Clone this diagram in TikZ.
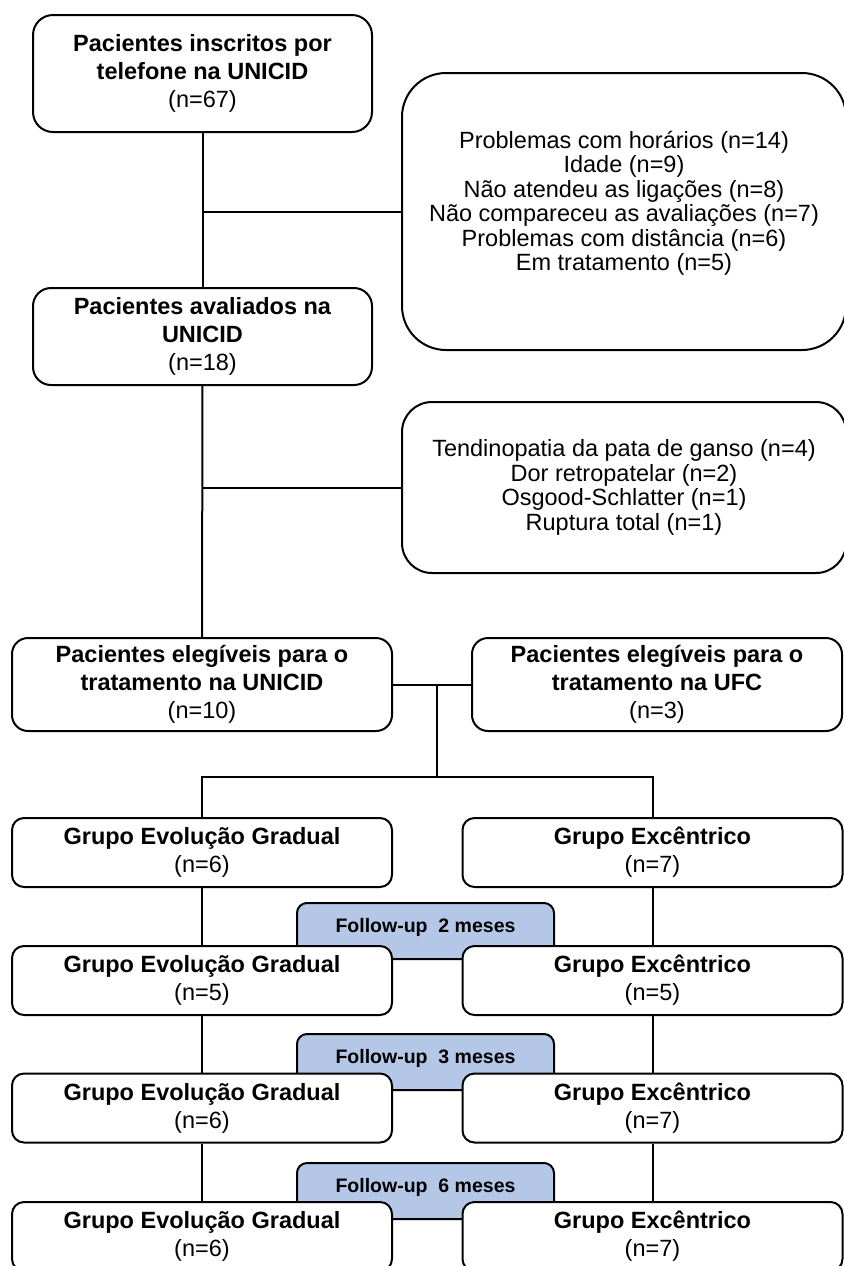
\documentclass[tikz,border=0pt]{standalone}
\usepackage{fontspec}
\setmainfont{Liberation Sans}
\usepackage{tikz}
\usetikzlibrary{positioning}
\definecolor{fublue}{RGB}{180,199,231}

\begin{document}
\begin{tikzpicture}[x=0.5pt,y=-0.5pt,
  box/.style={draw=black,line width=1pt,fill=white,align=center,inner sep=0pt,
    font=\fontsize{11.75}{14}\selectfont},
  exclbox/.style={box,font=\fontsize{11.75}{12.25}\selectfont},
  grpbox/.style={box,rounded corners=6pt,minimum width=190pt,minimum height=34.5pt},
  fubox/.style={draw=black,line width=1pt,fill=fublue,rounded corners=5pt,inner sep=0pt,
    minimum width=128.5pt,minimum height=28pt,text height=14.5pt,text depth=13.5pt,
    font=\fontsize{9.75}{11}\selectfont\bfseries},
  link/.style={line width=1pt}]
\clip (0,0) rectangle (844,1266);
\node[box,rounded corners=10pt,minimum width=169.5pt,minimum height=58.5pt] (ins) at (202.5,73.5)
  {\textbf{Pacientes inscritos por}\\\textbf{telefone na UNICID}\\(n=67)};
\node[exclbox,rounded corners=22pt,minimum width=222pt,minimum height=138.5pt,text depth=10.5pt] (excl1) at (624,211.5)
  {Problemas com horários (n=14)\\Idade (n=9)\\Não atendeu as ligações (n=8)\\Não compareceu as avaliações (n=7)\\Problemas com distância (n=6)\\Em tratamento (n=5)};
\node[box,rounded corners=9pt,minimum width=169.5pt,minimum height=48.5pt] (aval) at (202.5,336.5)
  {\textbf{Pacientes avaliados na}\\\textbf{UNICID}\\(n=18)};
\node[exclbox,rounded corners=15pt,minimum width=222pt,minimum height=85.5pt] (excl2) at (624,487.5)
  {Tendinopatia da pata de ganso (n=4)\\Dor retropatelar (n=2)\\Osgood-Schlatter (n=1)\\Ruptura total (n=1)};
\node[box,rounded corners=8pt,minimum width=190pt,minimum height=46.5pt] (eleg1) at (202,684.5)
  {\textbf{Pacientes elegíveis para o}\\\textbf{tratamento na UNICID}\\(n=10)};
\node[box,rounded corners=8pt,minimum width=185pt,minimum height=46.5pt] (eleg2) at (657,684.5)
  {\textbf{Pacientes elegíveis para o}\\\textbf{tratamento na UFC}\\(n=3)};
\node[fubox] (fu2) at (425.5,931) {Follow-up~~2 meses};
\node[fubox] (fu3) at (425.5,1062) {Follow-up~~3 meses};
\node[fubox] (fu6) at (425.5,1191) {Follow-up~~6 meses};
\node[grpbox] (g1l) at (202,852.5) {\textbf{Grupo Evolução Gradual}\\(n=6)};
\node[grpbox] (g1r) at (652.5,852.5) {\textbf{Grupo Excêntrico}\\(n=7)};
\node[grpbox] (g2l) at (202,980.5) {\textbf{Grupo Evolução Gradual}\\(n=5)};
\node[grpbox] (g2r) at (652.5,980.5) {\textbf{Grupo Excêntrico}\\(n=5)};
\node[grpbox] (g3l) at (202,1108) {\textbf{Grupo Evolução Gradual}\\(n=6)};
\node[grpbox] (g3r) at (652.5,1108) {\textbf{Grupo Excêntrico}\\(n=7)};
\node[grpbox] (g4l) at (202,1236.5) {\textbf{Grupo Evolução Gradual}\\(n=6)};
\node[grpbox] (g4r) at (652.5,1236.5) {\textbf{Grupo Excêntrico}\\(n=7)};
\coordinate (j1) at (ins.south |- excl1.west);
\coordinate (j2) at (aval.south |- excl2.west);
\coordinate (j3) at (437,684.5);
\coordinate (j4) at (437,777);
\draw[link] (ins) -- (aval);
\draw[link] (j1) -- (excl1.west);
\draw[link] (aval) -- (eleg1);
\draw[link] (j2) -- (excl2.west);
\draw[link] (eleg1.east) -- (eleg2.west);
\draw[link] (j3) -- (j4);
\draw[link] (g1l.north) |- (j4) -| (g1r.north);
\draw[link] (g1l) -- (g2l);
\draw[link] (g1r) -- (g2r);
\draw[link] (g2l) -- (g3l);
\draw[link] (g2r) -- (g3r);
\draw[link] (g3l) -- (g4l);
\draw[link] (g3r) -- (g4r);
\end{tikzpicture}
\end{document}
